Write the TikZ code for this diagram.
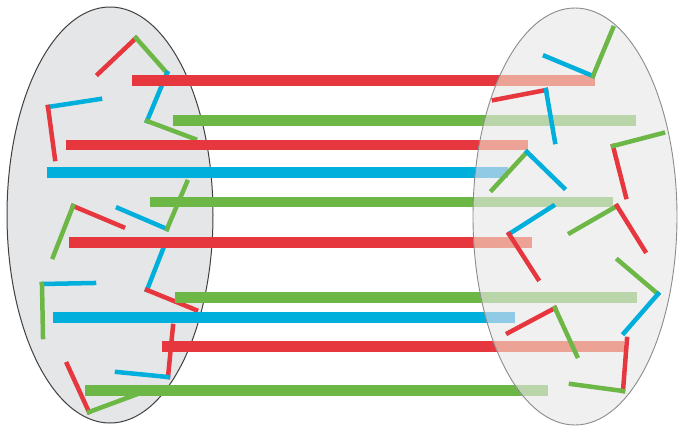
\documentclass[tikz,border=0pt]{standalone}
\definecolor{cred}{RGB}{230,55,62}
\definecolor{cgreen}{RGB}{108,183,70}
\definecolor{cblue}{RGB}{0,175,219}
\definecolor{fred}{RGB}{236,163,150}
\definecolor{fgreen}{RGB}{187,213,170}
\definecolor{fblue}{RGB}{145,202,228}
\definecolor{ellfill}{RGB}{229,230,232}
\definecolor{ellfillr}{RGB}{240,240,241}
\begin{document}
\begin{tikzpicture}[x=1pt,y=-1pt,
  bar/.style={line width=10.5pt,line cap=butt},
  stick/.style={line width=4.5pt,line cap=rect},
  leftell/.style={fill=ellfill,draw=black!75,line width=1pt},
  rightell/.style={draw=black!45,line width=0.9pt}]
\useasboundingbox (0,0) rectangle (678,426);
\fill[white] (0,0) rectangle (678,426);
% left ellipse
\path[leftell] (110,215) ellipse [x radius=103pt, y radius=208pt];
% left sticks
\draw[stick,cred] (98,74) -- (136,38);
\draw[stick,cgreen] (136,38) -- (167,73);
\draw[stick,cblue] (167,73) -- (147,121);
\draw[stick,cgreen] (147,121) -- (195,139);
\draw[stick,cblue] (100,99) -- (48,107);
\draw[stick,cred] (48,107) -- (55,159);
\draw[stick,cblue] (118,208) -- (167,229);
\draw[stick,cgreen] (167,229) -- (187,182);
\draw[stick,cred] (123,227) -- (73,206);
\draw[stick,cgreen] (73,206) -- (53,257);
\draw[stick,cblue] (165,244) -- (147,290);
\draw[stick,cred] (147,290) -- (196,310);
\draw[stick,cblue] (94,283) -- (42,284);
\draw[stick,cgreen] (42,284) -- (43,337);
\draw[stick,cred] (173,326) -- (168,377);
\draw[stick,cblue] (117,372) -- (168,377);
\draw[stick,cred] (67,364) -- (89,412);
\draw[stick,cgreen] (89,412) -- (135,395);
% bars
\draw[bar,cred]   (132,80.5) -- (595,80.5);
\draw[bar,cgreen] (173,120.7) -- (635.5,120.7);
\draw[bar,cred]   (66,145.2) -- (528,145.2);
\draw[bar,cblue]  (46.5,172.7) -- (508,172.7);
\draw[bar,cgreen] (150,202) -- (612.5,202);
\draw[bar,cred]   (69,242.5) -- (531.5,242.5);
\draw[bar,cgreen] (175,297.7) -- (636.5,297.7);
\draw[bar,cblue]  (52.5,317.3) -- (515,317.3);
\draw[bar,cred]   (162,346.5) -- (624,346.5);
\draw[bar,cgreen] (85,390.3) -- (548,390.3);
% right ellipse with faded bar parts
\fill[ellfillr] (575,216.5) ellipse [x radius=102pt, y radius=208.5pt];
\begin{scope}
\clip (575,216.5) ellipse [x radius=102pt, y radius=208.5pt];
\draw[bar,fred]   (132,80.5) -- (595,80.5);
\draw[bar,fgreen] (173,120.7) -- (635.5,120.7);
\draw[bar,fred]   (66,145.2) -- (528,145.2);
\draw[bar,fblue]  (46.5,172.7) -- (508,172.7);
\draw[bar,fgreen] (150,202) -- (612.5,202);
\draw[bar,fred]   (69,242.5) -- (531.5,242.5);
\draw[bar,fgreen] (175,297.7) -- (636.5,297.7);
\draw[bar,fblue]  (52.5,317.3) -- (515,317.3);
\draw[bar,fred]   (162,346.5) -- (624,346.5);
\draw[bar,fgreen] (85,390.3) -- (548,390.3);
\end{scope}
\path[rightell] (575,216.5) ellipse [x radius=102pt, y radius=208.5pt];
% right sticks
\draw[stick,cblue] (545,56) -- (593,76);
\draw[stick,cgreen] (593,76) -- (613,28);
\draw[stick,cred] (494,100) -- (546,90);
\draw[stick,cblue] (546,90) -- (555,142);
\draw[stick,cgreen] (492,190) -- (527,152);
\draw[stick,cblue] (527,152) -- (564,188);
\draw[stick,cred] (626,197) -- (613,146);
\draw[stick,cgreen] (613,146) -- (663,133);
\draw[stick,cblue] (553,206) -- (509,234);
\draw[stick,cred] (509,234) -- (538,279);
\draw[stick,cgreen] (570,233) -- (617,206);
\draw[stick,cred] (617,206) -- (645,251);
\draw[stick,cgreen] (618,260) -- (658,294);
\draw[stick,cblue] (658,294) -- (624,333);
\draw[stick,cred] (508,333) -- (555,308);
\draw[stick,cgreen] (555,308) -- (577,356);
\draw[stick,cred] (627,339) -- (623,391);
\draw[stick,cgreen] (623,391) -- (571,384);
\end{tikzpicture}
\end{document}
